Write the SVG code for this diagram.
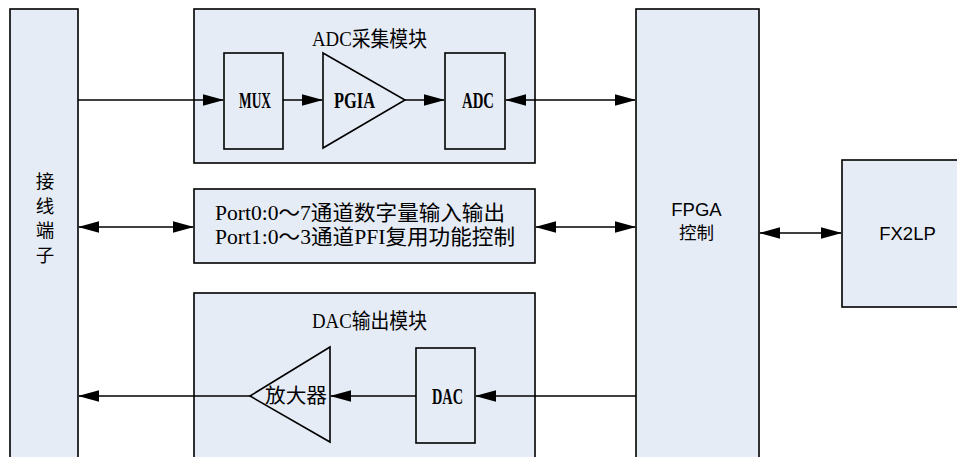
<svg xmlns="http://www.w3.org/2000/svg" width="957" height="457" viewBox="0 0 957 457">
<style>
.box{fill:#E6ECF6;stroke:#000;stroke-width:1.6}
.line{fill:none;stroke:#000;stroke-width:1.6}
.serif{font-family:"Liberation Serif","Noto Sans CJK SC",serif;font-size:20px;fill:#000}
.title{font-family:"Liberation Serif","Noto Sans CJK SC",serif;font-size:21px;fill:#000}
.lbl{font-family:"Liberation Serif","Noto Sans CJK SC",serif;font-size:23px;font-weight:bold;fill:#000}
.sans{font-family:"Liberation Sans","Noto Sans CJK SC",sans-serif;font-size:18.5px;fill:#000}
.cjk{font-family:"Noto Sans CJK SC",sans-serif;font-size:18.5px;fill:#000}
</style>
<defs>
<marker id="arr" markerUnits="userSpaceOnUse" markerWidth="22" markerHeight="12" refX="20" refY="5.75" orient="auto-start-reverse">
<path d="M0,0 L21,5.75 L0,11.5 Z" fill="#000"/>
</marker>
</defs>
<rect width="957" height="457" fill="#fff"/>
<g id="terminal">
<rect class="box" x="10" y="9" width="68" height="460"/>
<text class="cjk" text-anchor="middle"><tspan x="45" y="188">接</tspan><tspan x="45" y="213">线</tspan><tspan x="45" y="237">端</tspan><tspan x="45" y="262">子</tspan></text>
</g>
<g id="adc-module">
<rect class="box" x="194" y="9" width="341" height="154"/>
<text class="title" x="312" y="46" textLength="115" lengthAdjust="spacingAndGlyphs">ADC采集模块</text>
</g>
<g id="mux">
<rect class="box" x="224" y="53" width="59" height="96"/>
<text class="lbl" x="239" y="108" textLength="32" lengthAdjust="spacingAndGlyphs">MUX</text>
</g>
<g id="pgia">
<polygon class="box" points="323,53 405,100 323,148"/>
<text class="lbl" x="334" y="108" textLength="41" lengthAdjust="spacingAndGlyphs">PGIA</text>
</g>
<g id="adc">
<rect class="box" x="445" y="53" width="60" height="96"/>
<text class="lbl" x="462" y="108" textLength="32" lengthAdjust="spacingAndGlyphs">ADC</text>
</g>
<g id="port">
<rect class="box" x="194" y="189" width="341" height="74"/>
<text class="serif" style="font-size:21px"><tspan x="215" y="220" textLength="290" lengthAdjust="spacingAndGlyphs">Port0:0～7通道数字量输入输出</tspan><tspan x="215" y="243.5" textLength="300" lengthAdjust="spacingAndGlyphs">Port1:0～3通道PFI复用功能控制</tspan></text>
</g>
<g id="dac-module">
<rect class="box" x="194" y="293" width="341" height="180"/>
<text class="title" x="312" y="328" textLength="115" lengthAdjust="spacingAndGlyphs">DAC输出模块</text>
</g>
<g id="amplifier">
<polygon class="box" points="330,347 330,442 250,396"/>
<text class="serif" x="265" y="403" textLength="62" lengthAdjust="spacingAndGlyphs">放大器</text>
</g>
<g id="dac">
<rect class="box" x="416" y="348" width="59" height="95"/>
<text class="lbl" x="432" y="404" textLength="31" lengthAdjust="spacingAndGlyphs">DAC</text>
</g>
<g id="fpga">
<rect class="box" x="636" y="9" width="123" height="460"/>
<text class="sans" text-anchor="middle"><tspan x="696.5" y="215.5">FPGA</tspan><tspan x="696.5" y="239" style="font-size:17.5px">控制</tspan></text>
</g>
<g id="fx2lp">
<rect class="box" x="842" y="160" width="130" height="147"/>
<text class="sans" x="907.5" y="240" text-anchor="middle">FX2LP</text>
</g>
<g id="connectors">
<path class="line" d="M78,100 H223" marker-end="url(#arr)"/>
<path class="line" d="M283,100 H322" marker-end="url(#arr)"/>
<path class="line" d="M405,100 H444" marker-end="url(#arr)"/>
<path class="line" d="M506,100 H635" marker-start="url(#arr)" marker-end="url(#arr)"/>
<path class="line" d="M79,227 H193" marker-start="url(#arr)" marker-end="url(#arr)"/>
<path class="line" d="M536,227 H635" marker-start="url(#arr)" marker-end="url(#arr)"/>
<path class="line" d="M760,233 H841" marker-start="url(#arr)" marker-end="url(#arr)"/>
<path class="line" d="M636,396 H476" marker-end="url(#arr)"/>
<path class="line" d="M416,396 H331" marker-end="url(#arr)"/>
<path class="line" d="M250,396 H79" marker-end="url(#arr)"/>
</g>
</svg>
